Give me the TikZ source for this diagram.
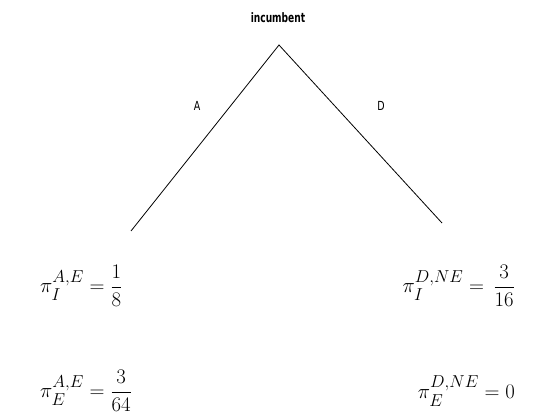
\documentclass[tikz,border=0pt]{standalone}
\usepackage{fontspec}
\setmainfont{DejaVu Sans}
\newfontfamily\condsans[FakeStretch=0.7]{DejaVu Sans}
\newfontfamily\condsanslab[FakeStretch=0.76]{DejaVu Sans}
\usepackage{amsmath}
\DeclareMathSizes{22}{22}{17}{13}
\begin{document}
\begin{tikzpicture}[x=1pt,y=-1pt,
  branch/.style={draw=black,line width=0.8pt},
  player/.style={font=\condsans\fontsize{13}{15}\selectfont\bfseries,inner sep=0pt},
  actlabel/.style={font=\condsanslab\fontsize{12.5}{14}\selectfont,inner sep=0pt},
  payoff/.style={font=\fontsize{22}{26}\selectfont,inner sep=0pt}]
\useasboundingbox (0,0) rectangle (550,420);
\coordinate (root) at (279,45);
\coordinate (leftend) at (131,231);
\coordinate (rightend) at (442,223);
\node[player] (inc) at (278,18) {incumbent};
\draw[branch] (leftend) -- (root) -- (rightend);
\node[actlabel] (la) at (197,106) {A};
\node[actlabel] (ld) at (381,106) {D};
\node[payoff,anchor=west] (p1) at (40,286) {$\pi_I^{A,E}=\dfrac{1}{8}$};
\node[payoff,anchor=west] (p2) at (40,391) {$\pi_E^{A,E}=\dfrac{3}{64}$};
\node[payoff,anchor=east] (p3) at (515,286) {$\pi_I^{D,NE}=\,\dfrac{3}{16}$};
\node[payoff,anchor=east] (p4) at (515,391) {$\pi_E^{D,NE}=0$};
\end{tikzpicture}
\end{document}
